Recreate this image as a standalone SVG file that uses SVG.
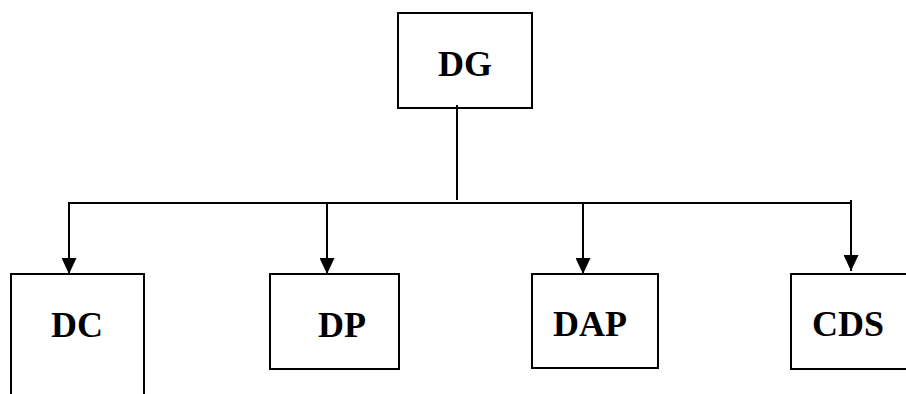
<svg xmlns="http://www.w3.org/2000/svg" width="906" height="394" viewBox="0 0 906 394">
<style>
.box{fill:#fff;stroke:#000;stroke-width:2}
.lbl{font-family:"Liberation Serif",serif;font-weight:bold;font-size:36px;fill:#000}
.ln{fill:none;stroke:#000;stroke-width:2}
</style>
<defs>
<marker id="ah" markerUnits="userSpaceOnUse" markerWidth="16" markerHeight="15" refX="16" refY="7.5" orient="auto">
<path d="M0,0 L16,7.5 L0,15 Z" fill="#000"/>
</marker>
</defs>
<rect width="906" height="394" fill="#fff"/>
<g id="DG"><rect class="box" x="398" y="13" width="134" height="95"/><text class="lbl" x="465" y="76" text-anchor="middle">DG</text></g>
<g id="DC"><rect class="box" x="11" y="274" width="133" height="130"/><text class="lbl" x="77" y="337" text-anchor="middle">DC</text></g>
<g id="DP"><rect class="box" x="270" y="274" width="129" height="95"/><text class="lbl" x="342" y="337" text-anchor="middle">DP</text></g>
<g id="DAP"><rect class="box" x="532" y="274" width="126" height="94"/><text class="lbl" x="590" y="336" text-anchor="middle">DAP</text></g>
<g id="CDS"><rect class="box" x="791" y="274" width="130" height="95"/><text class="lbl" x="848" y="336" text-anchor="middle">CDS</text></g>
<g id="connectors">
<path class="ln" d="M457,105 V200"/>
<path class="ln" d="M68,203 H851"/>
<path class="ln" d="M851,200 V203"/>
<path class="ln" d="M69,203 V274" marker-end="url(#ah)"/>
<path class="ln" d="M327,203 V274" marker-end="url(#ah)"/>
<path class="ln" d="M583,203 V274" marker-end="url(#ah)"/>
<path class="ln" d="M851,203 V271" marker-end="url(#ah)"/>
</g>
</svg>
